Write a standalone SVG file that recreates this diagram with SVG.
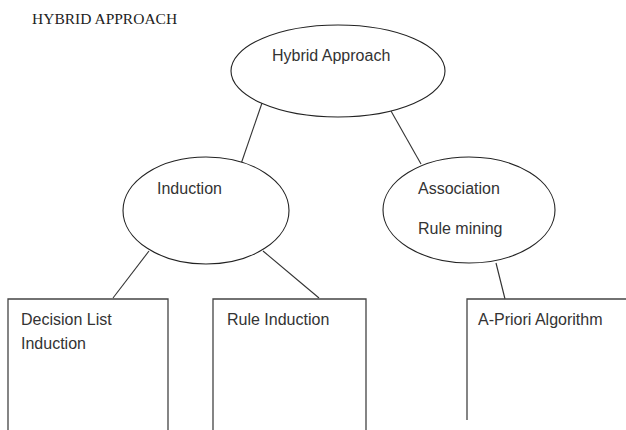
<svg xmlns="http://www.w3.org/2000/svg" width="626" height="430" viewBox="0 0 626 430">
<style>
.node{fill:#fff;stroke:#222;stroke-width:1.1}
.box{fill:none;stroke:#444;stroke-width:1.3}
.lbl{font-family:"Liberation Sans",Arial,sans-serif;font-size:16px;fill:#333}
.title{font-family:"Liberation Serif","Times New Roman",serif;font-size:15.5px;fill:#222}
.edge{stroke:#333;stroke-width:1.1;fill:none}
</style>
<rect width="626" height="430" fill="#fff"/>
<text class="title" x="32" y="24">HYBRID APPROACH</text>
<g id="connectors">
<line class="edge" x1="262" y1="103" x2="241" y2="164"/>
<line class="edge" x1="391" y1="111" x2="421" y2="164"/>
<line class="edge" x1="149" y1="251" x2="113" y2="298"/>
<line class="edge" x1="263" y1="251" x2="319" y2="298"/>
<line class="edge" x1="496" y1="263" x2="505" y2="299"/>
</g>
<g id="hybrid">
<ellipse class="node" cx="338" cy="71" rx="107" ry="46"/>
<text class="lbl" x="272" y="61">Hybrid Approach</text>
</g>
<g id="induction">
<ellipse class="node" cx="206" cy="210.5" rx="83" ry="53.5"/>
<text class="lbl" x="157" y="194">Induction</text>
</g>
<g id="association">
<ellipse class="node" cx="469" cy="210" rx="86" ry="53"/>
<text class="lbl" x="418" y="194">Association</text>
<text class="lbl" x="418" y="234">Rule mining</text>
</g>
<g id="decision-list">
<path class="box" d="M8,431 V299 H168 V431"/>
<text class="lbl" x="21" y="325">Decision List</text>
<text class="lbl" x="21" y="349">Induction</text>
</g>
<g id="rule-induction">
<path class="box" d="M213,431 V299 H366 V431"/>
<text class="lbl" x="227" y="325">Rule Induction</text>
</g>
<g id="apriori">
<path class="box" d="M467,420 V299 H627"/>
<text class="lbl" x="478" y="325">A-Priori Algorithm</text>
</g>
</svg>
